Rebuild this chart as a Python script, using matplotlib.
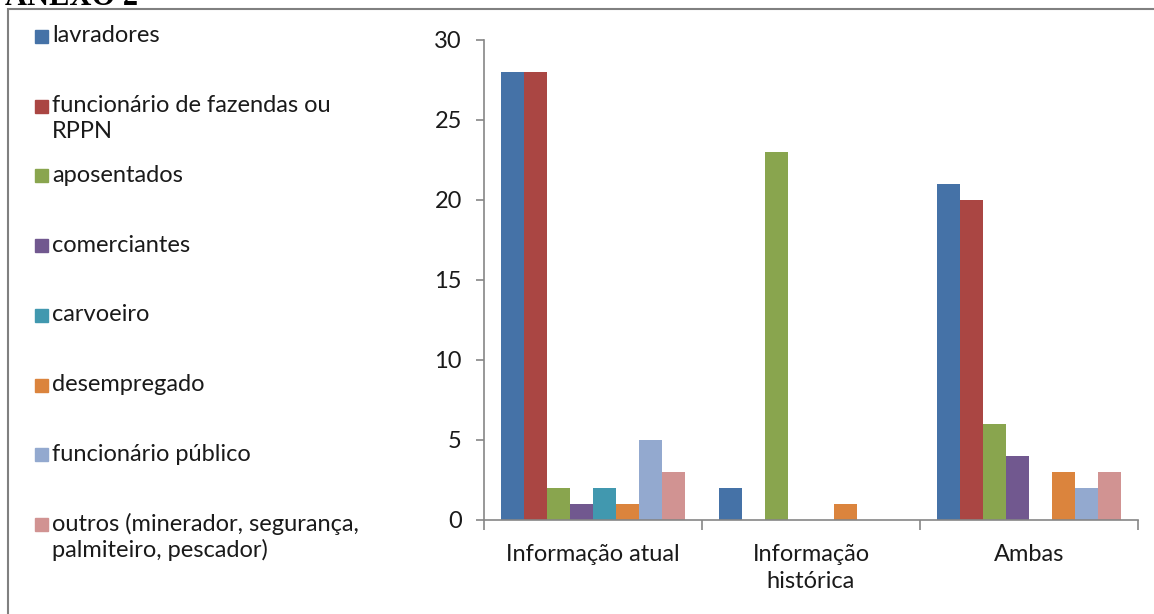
import matplotlib.pyplot as plt
from matplotlib.patches import Rectangle
import numpy as np

plt.rcParams['font.family'] = ['Lato', 'DejaVu Sans']

# categorias e series
categorias = ['Informação atual', 'Informação\nhistórica', 'Ambas']
series = ['lavradores', 'funcionário de fazendas ou\nRPPN', 'aposentados', 'comerciantes',
          'carvoeiro', 'desempregado', 'funcionário público',
          'outros (minerador, segurança,\npalmiteiro, pescador)']
lavradores = [28, 2, 21]
funcionario_fazendas = [28, 0, 20]
aposentados = [2, 23, 6]
comerciantes = [1, 0, 4]
carvoeiro = [2, 0, 0]
desempregado = [1, 1, 3]
funcionario_publico = [5, 0, 2]
outros = [3, 0, 3]
valores = [lavradores, funcionario_fazendas, aposentados, comerciantes,
           carvoeiro, desempregado, funcionario_publico, outros]
cores = ['#4572A7', '#AA4643', '#89A54E', '#71588F', '#4198AF', '#DB843D', '#93A9CF', '#D19392']

W, H = 1154, 614
fig = plt.figure(figsize=(W / 100, H / 100), dpi=100)

# moldura e titulo cortado
fig.patches.append(Rectangle((8 / W, -0.1), 1.2, 1 - 9 / H + 0.1, transform=fig.transFigure,
                             fill=False, edgecolor='#808080', linewidth=1.5))
fig.text(5 / W, 1 - 5 / H, 'ANEXO 2', family='Liberation Serif', weight='bold',
         fontsize=22, va='baseline', ha='left')

ax = fig.add_axes([484 / W, 1 - 520 / H, (1138 - 484) / W, 480 / H])
x = np.arange(len(categorias))
largura = 0.1055
for i, (vals, cor) in enumerate(zip(valores, cores)):
    ax.bar(x + (i - 3.5) * largura, vals, largura, color=cor)

ax.set_xlim(-0.5, 2.5)
ax.set_ylim(0, 30)
ax.set_yticks(range(0, 31, 5))
ax.set_xticks(x)
ax.set_xticklabels(categorias, fontsize=17, linespacing=1.35, color='#1a1a1a')
ax.set_xticks([-0.5, 0.5, 1.5, 2.5], minor=True)
ax.tick_params(axis='x', which='major', length=0, pad=17)
ax.tick_params(axis='x', which='minor', length=7, color='#868686', width=1.2)
ax.tick_params(axis='y', length=6, color='#868686', width=1.2, labelsize=17, pad=10,
               labelcolor='#1a1a1a')
for s in ['top', 'right']:
    ax.spines[s].set_visible(False)
for s in ['left', 'bottom']:
    ax.spines[s].set_color('#868686')
    ax.spines[s].set_linewidth(1.2)

# legenda a esquerda
for i, (nome, cor) in enumerate(zip(series, cores)):
    yc = 36 + 69.7 * i
    fig.patches.append(Rectangle((35 / W, 1 - (yc + 7) / H), 13 / W, 13 / H,
                                 transform=fig.transFigure, color=cor))
    for k, linha in enumerate(nome.split('\n')):
        fig.text(52 / W, 1 - (yc + 26 * k) / H, linha, fontsize=17,
                 va='center', ha='left', color='#1a1a1a')

fig.savefig('out.png', dpi=100)
